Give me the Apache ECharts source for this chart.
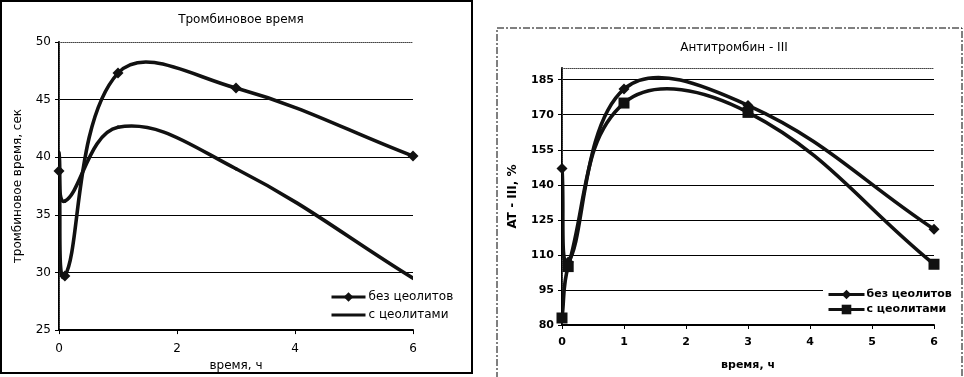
<!DOCTYPE html>
<html>
<head>
<meta charset="utf-8">
<script src="https://cdn.jsdelivr.net/npm/echarts@6/dist/echarts.min.js"></script>
<style>
  html, body { margin: 0; padding: 0; background: #fff; }
  #left { position: absolute; left: 0; top: 0; width: 476px; height: 377px; }
  #right { position: absolute; left: 484px; top: 0; width: 480px; height: 377px; }
</style>
</head>
<body>
<div id="left"></div>
<div id="right"></div>
<script>
// time points, hours
const hours = [0, 0.1, 1, 3, 6];

// thrombin time, s
const ttWithout = [38.8, 29.7, 47.3, 46.0, 40.1];
const ttWith = [40.4, 36.2, 42.6, 39.0, 29.5];

// antithrombin III, %
const atWithout = [147, 107, 181, 174, 121];
const atWith = [83, 105, 175, 171, 106];

const seriesNames = ["без цеолитов", "с цеолитами"];
const FONT = "DejaVu Sans";
const INK = "#111";
const TENSION = 0.4;

const pairs = (ys) => hours.map((h, i) => [h, ys[i]]);
const dist = (a, b) => Math.hypot(a[0] - b[0], a[1] - b[1]);

// Excel-like smoothing: bezier handles along the neighbour chord, no clamping,
// so the curve may overshoot the points like the spreadsheet one does
function handles(pts, i) {
  const p = pts[i];
  const prev = pts[i - 1] || p;
  const next = pts[i + 1] || p;
  const dx = next[0] - prev[0];
  const dy = next[1] - prev[1];
  const lp = dist(p, prev);
  const ln = dist(p, next);
  const s = lp + ln || 1;
  return {
    out: [p[0] + dx * TENSION * ln / s, p[1] + dy * TENSION * ln / s],
    in: [p[0] - dx * TENSION * lp / s, p[1] - dy * TENSION * lp / s],
  };
}

const curveSeries = (ys) => ({
  type: "custom",
  data: pairs(ys),
  encode: { x: 0, y: 1 },
  clip: true,
  silent: true,
  z: 2,
  renderItem: (params, api) => {
    const i = params.dataIndex;
    if (i >= hours.length - 1) return null;
    const pts = hours.map((h, k) => api.coord([h, ys[k]]));
    const a = handles(pts, i);
    const b = handles(pts, i + 1);
    return {
      type: "bezierCurve",
      shape: {
        x1: pts[i][0], y1: pts[i][1],
        cpx1: a.out[0], cpy1: a.out[1],
        cpx2: b.in[0], cpy2: b.in[1],
        x2: pts[i + 1][0], y2: pts[i + 1][1],
      },
      style: { fill: "none", stroke: INK, lineWidth: 3.6, lineCap: "round" },
    };
  },
});

// markers + legend entry; the visible curve comes from curveSeries
const markerSeries = (name, ys, symbol) => ({
  name: name,
  type: "line",
  data: pairs(ys),
  symbol: symbol,
  symbolSize: symbol === "rect" ? 11 : 11,
  showSymbol: true,
  itemStyle: { color: INK, opacity: symbol === "none" ? 0 : 1 },
  lineStyle: { color: INK, width: 0, opacity: 0 },
  z: 3,
});

const frameAxis = (pos, min, max) => ({
  type: "value",
  position: pos,
  min: min,
  max: max,
  axisLine: { show: true, lineStyle: { color: "#444", width: 1, type: "dotted" } },
  axisTick: { show: false },
  axisLabel: { show: false },
  splitLine: { show: false },
});

const legendLine = { color: INK, width: 3, opacity: 1 };

// --- left chart: thrombin time ---
const leftChart = echarts.init(document.getElementById("left"));
leftChart.setOption({
  animation: false,
  textStyle: { fontFamily: FONT, color: "#000" },
  graphic: [
    {
      type: "rect",
      shape: { x: 1, y: 1, width: 471, height: 372 },
      style: { fill: "none", stroke: "#000", lineWidth: 2 },
    },
  ],
  title: {
    text: "Тромбиновое время",
    left: 236,
    textAlign: "center",
    top: 9,
    textStyle: { fontFamily: FONT, fontSize: 12, fontWeight: "normal", color: "#000" },
  },
  legend: {
    orient: "vertical",
    left: 328,
    top: 289,
    itemWidth: 34,
    itemHeight: 12,
    itemGap: 6,
    padding: 2,
    data: seriesNames,
    lineStyle: legendLine,
    textStyle: { fontFamily: FONT, fontSize: 12, color: "#000", padding: [0, 0, 0, -2] },
  },
  grid: { left: 59, top: 42, width: 354, height: 291 },
  xAxis: [
    {
      type: "value",
      min: 0,
      max: 6,
      interval: 2,
      name: "время, ч",
      nameLocation: "middle",
      nameGap: 23,
      nameTextStyle: { fontFamily: FONT, fontSize: 12, color: "#000" },
      axisLine: { lineStyle: { color: "#000", width: 2 } },
      axisTick: { show: true, length: 4, lineStyle: { color: "#000" } },
      axisLabel: { fontFamily: FONT, fontSize: 12, color: "#000", margin: 13 },
      splitLine: { show: false },
    },
    frameAxis("top", 0, 6),
  ],
  yAxis: [
    {
      type: "value",
      min: 25,
      max: 50,
      interval: 5,
      name: "тромбиновое время, сек",
      nameLocation: "middle",
      nameGap: 35,
      nameTextStyle: { fontFamily: FONT, fontSize: 12, color: "#000" },
      axisLine: { show: true, lineStyle: { color: "#000", width: 2 } },
      axisTick: { show: true, length: 4, lineStyle: { color: "#000" } },
      axisLabel: { fontFamily: FONT, fontSize: 12, color: "#000", margin: 8 },
      splitLine: { show: true, showMaxLine: false, lineStyle: { color: "#000", width: 1 } },
    },
    frameAxis("right", 25, 50),
  ],
  series: [
    markerSeries(seriesNames[0], ttWithout, "diamond"),
    markerSeries(seriesNames[1], ttWith, "none"),
    curveSeries(ttWithout),
    curveSeries(ttWith),
  ],
});

// --- right chart: antithrombin III ---
const rightChart = echarts.init(document.getElementById("right"));
rightChart.setOption({
  animation: false,
  textStyle: { fontFamily: FONT, color: "#000" },
  graphic: [
    {
      type: "rect",
      shape: { x: 13, y: 28, width: 465, height: 380 },
      style: { fill: "none", stroke: "#000", lineWidth: 1, lineDash: [7, 2, 2, 2] },
    },
  ],
  title: {
    text: "Антитромбин - III",
    left: 245,
    textAlign: "center",
    top: 37,
    textStyle: { fontFamily: FONT, fontSize: 12, fontWeight: "normal", color: "#000" },
  },
  legend: {
    orient: "vertical",
    left: 339,
    top: 287,
    itemWidth: 36,
    itemHeight: 12,
    itemGap: 4,
    padding: [2, 4, 2, 4],
    backgroundColor: "#fff",
    data: seriesNames,
    lineStyle: legendLine,
    textStyle: { fontFamily: FONT, fontSize: 11, fontWeight: "bold", color: "#000", padding: [0, 0, 0, -3] },
  },
  grid: { left: 78, top: 68, width: 372, height: 257 },
  xAxis: [
    {
      type: "value",
      min: 0,
      max: 6,
      interval: 1,
      name: "время, ч",
      nameLocation: "middle",
      nameGap: 35,
      nameTextStyle: { fontFamily: FONT, fontSize: 11, fontWeight: "bold", color: "#000" },
      axisLine: { lineStyle: { color: "#000", width: 2 } },
      axisTick: { show: true, length: 4, lineStyle: { color: "#000" } },
      axisLabel: { fontFamily: FONT, fontSize: 11, fontWeight: "bold", color: "#000", margin: 12 },
      splitLine: { show: false },
    },
    frameAxis("top", 0, 6),
  ],
  yAxis: [
    {
      type: "value",
      min: 80,
      max: 190,
      interval: 15,
      name: "AT - III, %",
      nameLocation: "middle",
      nameGap: 43,
      nameTextStyle: { fontFamily: FONT, fontSize: 12, fontWeight: "bold", color: "#000" },
      axisLine: { show: true, lineStyle: { color: "#000", width: 2 } },
      axisTick: { show: true, length: 4, lineStyle: { color: "#000" } },
      axisLabel: { fontFamily: FONT, fontSize: 11, fontWeight: "bold", color: "#000", margin: 8, showMaxLabel: false },
      splitLine: { show: true, showMaxLine: false, lineStyle: { color: "#000", width: 1 } },
    },
    frameAxis("right", 80, 190),
  ],
  series: [
    markerSeries(seriesNames[0], atWithout, "diamond"),
    markerSeries(seriesNames[1], atWith, "rect"),
    curveSeries(atWithout),
    curveSeries(atWith),
  ],
});
</script>
</body>
</html>
